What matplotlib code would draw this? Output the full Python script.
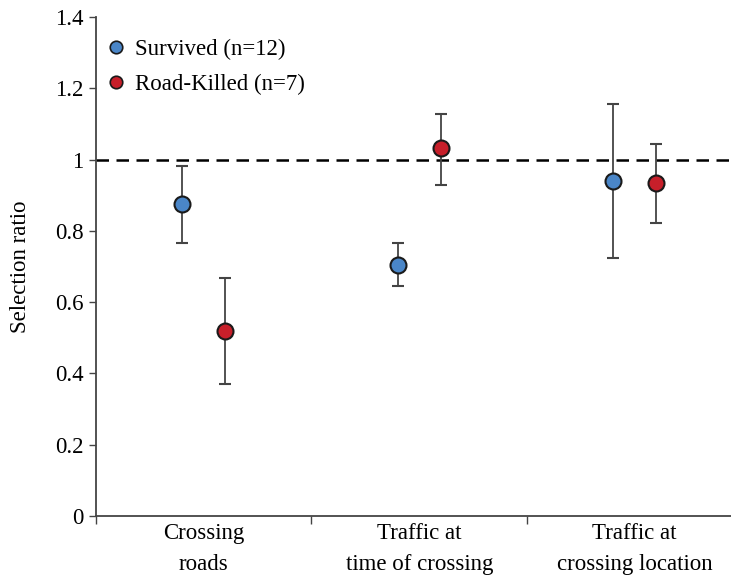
import numpy as np
import matplotlib.pyplot as plt

# Selection ratios with asymmetric error bars
categories = ['Crossing\nroads', 'Traffic at\ntime of crossing', 'Traffic at\ncrossing location']
survived = [0.875, 0.704, 0.940]
survived_lo = [0.766, 0.645, 0.724]
survived_hi = [0.982, 0.766, 1.156]
killed = [0.519, 1.033, 0.934]
killed_lo = [0.370, 0.929, 0.822]
killed_hi = [0.668, 1.128, 1.044]

plt.rcParams['font.family'] = ['Liberation Serif', 'DejaVu Serif']
fs = 16.5

fig = plt.figure(figsize=(7.31, 5.75), dpi=100)
ax = fig.add_axes([0.1313, 0.1026, 0.8687, 0.8678])

x = np.arange(len(categories))
s = np.array(survived)
k = np.array(killed)
s_err = [s - np.array(survived_lo), np.array(survived_hi) - s]
k_err = [k - np.array(killed_lo), np.array(killed_hi) - k]

ax.axhline(1, color='black', lw=1.8, ls=(0, (5, 3)), zorder=1)

ax.errorbar(x + 0.4, s, yerr=s_err, fmt='o', color='#4a86c8', mec='#1a1a1a', mew=1.5,
            ms=11.5, ecolor='#444444', elinewidth=1.3, capsize=4, capthick=1.3,
            label='Survived (n=12)', zorder=3)
ax.errorbar(x + 0.6, k, yerr=k_err, fmt='o', color='#c71f2a', mec='#1a1a1a', mew=1.5,
            ms=11.5, ecolor='#444444', elinewidth=1.3, capsize=4, capthick=1.3,
            label='Road-Killed (n=7)', zorder=3)

ax.set_xlim(0, 2.947)
ax.set_ylim(0, 1.4)
ax.set_yticks([0, 0.2, 0.4, 0.6, 0.8, 1.0, 1.2, 1.4])
ax.set_yticklabels(['0', '0.2', '0.4', '0.6', '0.8', '1', '1.2', '1.4'])
ax.set_xticks([0, 1, 2])
ax.set_xticklabels([])
ax.set_xticks(x + 0.5, minor=True)
ax.set_xticklabels(categories, minor=True, linespacing=1.6)
ax.tick_params(axis='x', which='minor', length=0, pad=5, labelsize=fs)
ax.tick_params(axis='x', which='major', length=6, width=1, color='#444444')
ax.tick_params(axis='y', length=5, width=1, color='#444444', labelsize=fs, pad=4)

for side in ['top', 'right']:
    ax.spines[side].set_visible(False)
for side in ['left', 'bottom']:
    ax.spines[side].set_color('#444444')
    ax.spines[side].set_linewidth(1.3)

ax.set_ylabel('Selection ratio', fontsize=fs, labelpad=17)

handles, labels = ax.get_legend_handles_labels()
handles = [h[0] for h in handles]
leg = ax.legend(handles, labels, loc='upper left', frameon=False, fontsize=fs,
                handletextpad=0.0, borderaxespad=0.3, labelspacing=0.6,
                handlelength=1.6, bbox_to_anchor=(-0.022, 0.988))
for h in leg.legend_handles:
    h.set_markersize(9)
    h.set_markeredgewidth(1.2)

plt.savefig('out.png', dpi=100)
